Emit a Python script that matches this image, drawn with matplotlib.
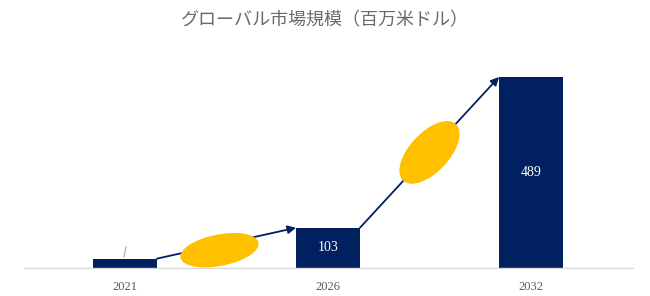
import matplotlib.pyplot as plt
from matplotlib.patches import Ellipse
from matplotlib.transforms import IdentityTransform

years = ['2021', '2026', '2032']
values = [24, 103, 489]
labels = ['', '103', '489']

bar_color = '#002060'
oval_color = '#FFC000'
grey = '#595959'

fig = plt.figure(figsize=(6.5, 2.96), dpi=100)
# axes placed in pixels: left 23.5, right 632.5, baseline at y=268 (from top)
ax = fig.add_axes([23.5 / 650, 28 / 296, 609 / 650, 218 / 296])

w = 0.315
x = range(len(years))
ax.bar(x, values, width=w, color=bar_color, zorder=2)
ax.set_xlim(-0.5, 2.5)
ax.set_ylim(0, 558)

for i, (v, t) in enumerate(zip(values, labels)):
    if t:
        ax.text(i, v / 2, t, ha='center', va='center', color='white',
                fontsize=10, family='Liberation Serif', zorder=3)

# small leader line above the first bar
ax.plot([-0.005, 0.005], [values[0] + 5, values[0] + 30], color='#a6a6a6', lw=0.8)

# growth arrows between bar tops, with an oval over each
ovals = [(39, 15, 11, -7, 7), (38, 19, 47, 0, 0)]
for i in range(len(values) - 1):
    p0 = (i + w / 2, values[i])
    p1 = (i + 1 - w / 2, values[i + 1])
    ax.annotate('', xy=p1, xytext=p0,
                arrowprops=dict(arrowstyle='-|>', color=bar_color, lw=1.3,
                                mutation_scale=12, shrinkA=0, shrinkB=0),
                zorder=3)
    a, b, ang, dx, dy = ovals[i]
    q0 = ax.transData.transform(p0)
    q1 = ax.transData.transform(p1)
    cx = (q0[0] + q1[0]) / 2 + dx
    cy = (q0[1] + q1[1]) / 2 - dy
    ax.add_patch(Ellipse((cx, cy), 2 * a, 2 * b, angle=ang, color=oval_color,
                         transform=IdentityTransform(), zorder=4))

ax.set_xticks(list(x))
ax.set_xticklabels(years, family='Liberation Serif', fontsize=9, color=grey)
ax.tick_params(axis='x', length=0, pad=9)
ax.set_yticks([])
for s in ['top', 'left', 'right']:
    ax.spines[s].set_visible(False)
ax.spines['bottom'].set_color('#d9d9d9')
ax.spines['bottom'].set_linewidth(1)

fig.text(0.5, 1 - 20 / 296, 'グローバル市場規模（百万米ドル）', ha='center', va='center',
         fontsize=13, color='#6a6a6a', family=['Noto Sans CJK JP', 'DejaVu Sans'])

fig.savefig('out.png', dpi=100)
